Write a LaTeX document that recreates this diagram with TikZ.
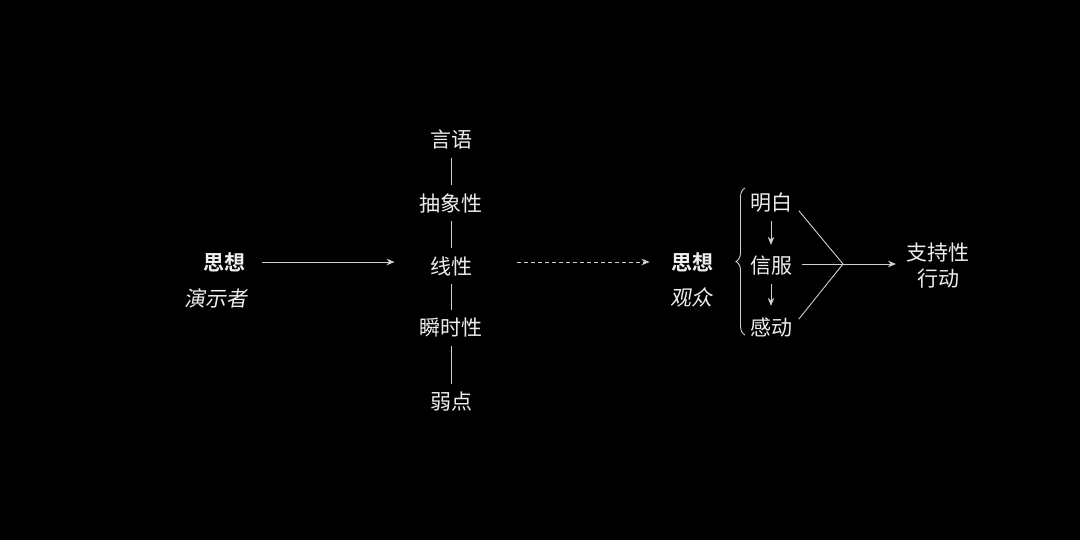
\documentclass[tikz,border=0pt]{standalone}
\usepackage{fontspec}
\usepackage{tikz}
\usetikzlibrary{arrows.meta,calc,decorations.pathreplacing}
\newfontfamily\cjk{Noto Sans CJK SC}
\newfontfamily\cjkb{Noto Sans CJK SC Bold}
\newfontfamily\cjkit[FakeSlant=0.18]{Noto Sans CJK SC}
\definecolor{txt}{HTML}{EEEEEE}
\definecolor{ln}{HTML}{D0D0D0}
\tikzset{
  >={Stealth[length=8pt,width=6.5pt]},
  t/.style={inner sep=0pt,text=txt,font=\cjk\fontsize{21}{26}\selectfont},
  tb/.style={t,font=\cjkb\fontsize{21}{26}\selectfont},
  ts/.style={t,font=\cjkit\fontsize{21}{26}\selectfont},
  c/.style={draw=ln,line width=0.9pt},
  every picture/.style={line width=0.9pt},
}
\begin{document}
\begin{tikzpicture}[x=1pt,y=-1pt]
\fill[black] (0,0) rectangle (1080,540);
\node[tb] (thA) at (224,262){思想}; \node[ts] (ysz) at (216,298){演示者};
\node[t] (yy) at (451,140){言语}; \node[t] (cxx) at (451,203){抽象性}; \node[t] (xx) at (451,266){线性};
\node[t] (ssx) at (451,328){瞬时性}; \node[t] (rd) at (451,402){弱点};
\node[tb] (thB) at (692,262){思想}; \node[ts] (gz) at (691,297){观众};
\node[t] (mb) at (771,203){明白}; \node[t] (xf) at (771,266){信服}; \node[t] (gd) at (771,327){感动};
\node[t,align=center] (act) at (938,266){支持性\\行动};
\coordinate (fork) at (843,264);
\draw[c,->,shorten <=17pt,shorten >=35pt] (thA.east) -- (thA.east -| xx.west);
\draw[c,->,dashed,dash pattern=on 4pt off 3pt,shorten <=45pt,shorten >=21pt] (xx.east |- thA.east) -- (thB.west);
\foreach \a/\b in {yy/cxx,cxx/xx,xx/ssx,ssx/rd} \draw[c,shorten <=8pt,shorten >=8pt] (\a) -- (\b);
\draw[c,->,shorten <=8pt,shorten >=11pt] (mb) -- (xf); \draw[c,->,shorten <=8pt,shorten >=11pt] (xf) -- (gd);
\draw[c,decorate,decoration={brace,amplitude=9pt}] (745,335) -- (745,188);
\draw[c,shorten <=10pt] (mb.east) -- (fork); \draw[c,shorten <=10pt] (gd.east) -- (fork);
\draw[c,->,shorten <=10pt,shorten >=10pt] (xf.east |- fork) -- (act.west |- fork);
\end{tikzpicture}
\end{document}
